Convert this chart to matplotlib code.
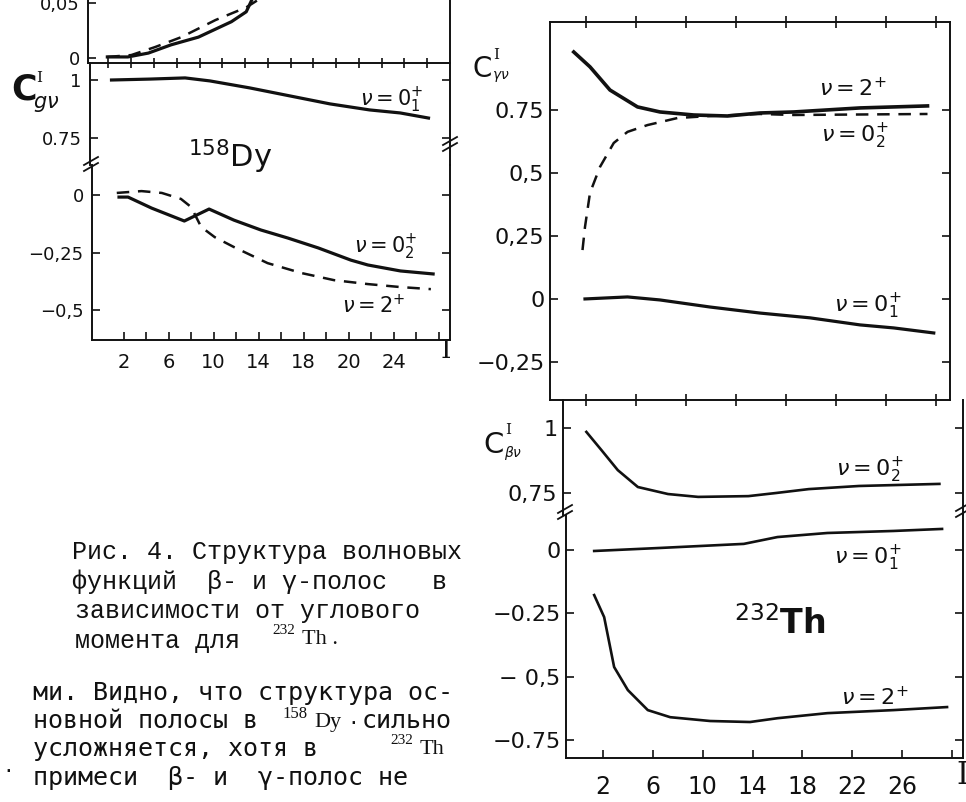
import matplotlib
matplotlib.use("Agg")
import matplotlib.pyplot as plt
from matplotlib.lines import Line2D

# ---------------- data ----------------
# 158Dy, upper strip (small component)
dy_top_solid_I = [0.9, 2.7, 4.5, 6.5, 8.9, 11.8, 13.1, 13.6]
dy_top_solid_C = [0.001, 0.001, 0.0045, 0.012, 0.019, 0.033, 0.042, 0.053]
dy_top_dash_I = [0.9, 3.0, 5.1, 7.4, 10.4, 13.1, 14.4, 16.0]
dy_top_dash_C = [0.001, 0.0027, 0.010, 0.019, 0.0345, 0.046, 0.0545, 0.058]
# 158Dy, nu = 0_1^+
dy_01_I = [1.1, 4.5, 7.6, 9.8, 13.3, 16.9, 20.4, 23.9, 26.6, 29.1]
dy_01_C = [1.0, 1.004, 1.009, 0.996, 0.966, 0.931, 0.897, 0.871, 0.858, 0.836]
# 158Dy, nu = 0_2^+
dy_02_I = [1.6, 2.4, 4.5, 7.4, 9.6, 11.8, 14.2, 16.6, 19.3, 22.2, 23.7, 26.6, 29.5]
dy_02_C = [-0.009, -0.009, -0.057, -0.113, -0.061, -0.109, -0.152, -0.187,
           -0.230, -0.283, -0.304, -0.330, -0.343]
# 158Dy, nu = 2^+
dy_2_I = [1.4, 3.6, 5.4, 7.1, 8.0, 8.9, 10.1, 11.8, 14.8, 17.8, 20.7, 23.7, 26.6, 29.3]
dy_2_C = [0.009, 0.017, 0.009, -0.017, -0.052, -0.139, -0.183, -0.226, -0.296,
          -0.339, -0.370, -0.387, -0.400, -0.409]

# 232Th, gamma band
th_g2_I = [1.0, 2.3, 3.9, 6.1, 7.9, 10.6, 13.3, 15.9, 18.6, 23.9, 29.3]
th_g2_C = [0.980, 0.921, 0.829, 0.762, 0.742, 0.730, 0.726, 0.738, 0.742, 0.758, 0.766]
th_g02_I = [1.7, 1.9, 2.3, 3.1, 4.2, 5.3, 6.9, 9.3, 11.9, 15.9, 18.6, 29.3]
th_g02_C = [0.194, 0.286, 0.421, 0.524, 0.619, 0.663, 0.690, 0.718, 0.726, 0.734, 0.730, 0.734]
th_g01_I = [1.9, 5.3, 7.9, 11.9, 15.9, 19.9, 23.9, 26.6, 29.8]
th_g01_C = [0.0, 0.008, -0.004, -0.032, -0.056, -0.075, -0.103, -0.115, -0.135]

# 232Th, beta band
th_b02_I = [0.9, 2.1, 3.4, 5.0, 7.4, 9.8, 13.8, 16.0, 18.6, 22.6, 29.0]
th_b02_C = [0.985, 0.915, 0.838, 0.773, 0.746, 0.735, 0.738, 0.750, 0.765, 0.777, 0.785]
th_b01_I = [1.3, 6.6, 13.3, 14.1, 16.0, 20.0, 25.3, 29.2]
th_b01_C = [-0.004, 0.008, 0.024, 0.032, 0.051, 0.067, 0.075, 0.083]
th_b2_I = [1.3, 2.1, 2.9, 4.0, 5.6, 7.4, 10.6, 13.8, 16.0, 20.0, 25.3, 29.6]
th_b2_C = [-0.178, -0.265, -0.462, -0.553, -0.632, -0.660, -0.675, -0.679,
           -0.664, -0.644, -0.632, -0.620]

# tick labels
dy_x_ticks = [2, 6, 10, 14, 18, 22, 26]
dy_x_labels = ["2", "6", "10", "14", "18", "20", "24"]
th_x_ticks = [2, 6, 10, 14, 18, 22, 26, 30]
th_x_labels = ["2", "6", "10", "14", "18", "22", "26", ""]
dy_top_yticks = [0, 0.05]
dy_top_ylabels = ["0", "0,05"]
dy_mid_yticks = [1, 0.75]
dy_mid_ylabels = ["1", "0.75"]
dy_low_yticks = [0, -0.25, -0.5]
dy_low_ylabels = ["0", "\u22120,25", "\u22120,5"]
thg_yticks = [0.75, 0.5, 0.25, 0, -0.25]
thg_ylabels = ["0.75", "0,5", "0,25", "0", "\u22120,25"]
thb_up_yticks = [1, 0.75]
thb_up_ylabels = ["1", "0,75"]
thb_low_yticks = [0, -0.25, -0.5, -0.75]
thb_low_ylabels = ["0", "\u22120.25", "\u2212 0,5", "\u22120.75"]

# ---------------- figure ----------------
plt.rcParams['mathtext.fontset'] = 'dejavusans'
W, H = 966, 802
fig = plt.figure(figsize=(W / 100, H / 100), dpi=100)
fig.patch.set_facecolor('white')
INK = '#111111'


def axpx(l, t, r, b):
    ax = fig.add_axes([l / W, 1 - b / H, (r - l) / W, (b - t) / H])
    ax.patch.set_alpha(0)
    return ax


def ftxt(x, y, s, **kw):
    kw.setdefault('ha', 'center')
    kw.setdefault('va', 'center')
    kw.setdefault('color', INK)
    return fig.text(x / W, 1 - y / H, s, **kw)


def fline(xs, ys, lw=1.3):
    fig.add_artist(Line2D([x / W for x in xs], [1 - y / H for y in ys],
                          transform=fig.transFigure, color=INK, lw=lw))


def style(ax, spines, xlim, ylim, lsize):
    ax.set_xlim(*xlim)
    ax.set_ylim(*ylim)
    for s in ['top', 'bottom', 'left', 'right']:
        ax.spines[s].set_visible(s in spines)
        ax.spines[s].set_linewidth(1.4)
        ax.spines[s].set_color(INK)
    ax.tick_params(axis='both', which='both', direction='in', length=6, width=1.2,
                   colors=INK, labelsize=lsize, pad=6)
    ax.set_xticks([])
    ax.set_yticks([])


XL_DY = (-0.8, 31.0)
lw_thick = 2.3
dash = dict(ls=(0, (5, 3.5)), lw=1.8, color=INK)

# ---- 158Dy, top strip ----
a1 = axpx(88, 0, 450, 63)
style(a1, ['left', 'right', 'bottom'], XL_DY, (-0.0045, 0.0527), 13)
a1.set_yticks(dy_top_yticks, dy_top_ylabels)
a1.set_xticks(list(range(1, 31, 2)))
a1.tick_params(axis='x', direction='inout', length=7, labelbottom=False)
a1.plot(dy_top_solid_I, dy_top_solid_C, color=INK, lw=lw_thick)
a1.plot(dy_top_dash_I, dy_top_dash_C, **dash)

# ---- 158Dy, middle ----
a2 = axpx(90, 63, 450, 165)
style(a2, ['left', 'right'], XL_DY, (0.6336, 1.0733), 13)
a2.set_yticks(dy_mid_yticks, dy_mid_ylabels)
a2.tick_params(axis='y', right=True)
a2.plot(dy_01_I, dy_01_C, color=INK, lw=lw_thick)

# ---- 158Dy, lower ----
a3 = axpx(92, 165, 450, 340)
style(a3, ['left', 'right', 'bottom'], XL_DY, (-0.630, 0.1304), 13)
a3.set_yticks(dy_low_yticks, dy_low_ylabels)
a3.tick_params(axis='y', right=True)
a3.set_xticks(dy_x_ticks, dy_x_labels)
a3.set_xticks(list(range(2, 31, 2)), minor=True)
a3.tick_params(axis='x', which='both', length=6, pad=9, labelsize=14)
a3.plot(dy_02_I, dy_02_C, color=INK, lw=lw_thick)
a3.plot(dy_2_I, dy_2_C, **dash)

# break marks, left panel
for dy in (-3, 3):
    fline([84, 98], [168 + dy, 160 + dy], lw=1.3)
    fline([443, 457], [148 + dy, 140 + dy], lw=1.3)

ftxt(24, 90, "C", fontsize=25, fontweight='bold')
ftxt(39, 78, "I", fontsize=11, family='DejaVu Serif')
ftxt(46, 104, r"$g\nu$", fontsize=15)
ftxt(230, 157, r"$^{158}$Dy", fontsize=22)
ftxt(392, 100, r"$\nu=0_{1}^{+}$", fontsize=15, fontweight='bold')
ftxt(386, 247, r"$\nu=0_{2}^{+}$", fontsize=15)
ftxt(374, 305, r"$\nu=2^{+}$", fontsize=15)
ftxt(446, 350, "I", fontsize=19, family='DejaVu Serif')

# ---- 232Th, gamma panel ----
XL_TH = (-0.9, 31.1)
b1 = axpx(550, 22, 950, 400)
style(b1, ['left', 'right', 'bottom', 'top'], XL_TH, (-0.401, 1.099), 16)
b1.set_yticks(thg_yticks, thg_ylabels)
b1.tick_params(axis='y', right=True, pad=4)
b1.set_xticks(th_x_ticks)
b1.tick_params(axis='x', direction='inout', length=8, labelbottom=False, top=True)
b1.plot(th_g2_I, th_g2_C, color=INK, lw=lw_thick + 0.3)
b1.plot(th_g02_I, th_g02_C, **dash)
b1.plot(th_g01_I, th_g01_C, color=INK, lw=lw_thick)

ftxt(482, 69, "C", fontsize=20)
ftxt(496, 55, "I", fontsize=11, family='DejaVu Serif')
ftxt(501, 76, r"$\gamma\nu$", fontsize=10)
ftxt(853, 88, r"$\nu=2^{+}$", fontsize=16, fontweight='bold')
ftxt(855, 136, r"$\nu=0_{2}^{+}$", fontsize=16)
ftxt(868, 306, r"$\nu=0_{1}^{+}$", fontsize=16)

# ---- 232Th, beta panel (upper) ----
XL_THB = (-0.96, 30.88)
b2 = axpx(563, 400, 963, 515)
style(b2, ['left', 'right'], XL_THB, (0.6654, 1.1077), 16)
b2.set_yticks(thb_up_yticks, thb_up_ylabels)
b2.tick_params(axis='y', right=True, pad=4)
b2.plot(th_b02_I, th_b02_C, color=INK, lw=1.9)

# ---- 232Th, beta panel (lower) ----
b3 = axpx(566, 515, 963, 758)
style(b3, ['left', 'right', 'bottom'], XL_THB, (-0.821, 0.138), 16)
b3.set_yticks(thb_low_yticks, thb_low_ylabels)
b3.tick_params(axis='y', right=True, pad=4)
b3.set_xticks(th_x_ticks, th_x_labels)
b3.tick_params(axis='x', length=6, pad=12, labelsize=17)
b3.plot(th_b01_I, th_b01_C, color=INK, lw=1.9)
b3.plot(th_b2_I, th_b2_C, color=INK, lw=1.9)

for dy in (-3, 3):
    fline([558, 572], [516 + dy, 508 + dy], lw=1.3)
    fline([956, 970], [514 + dy, 506 + dy], lw=1.3)

ftxt(494, 445, "C", fontsize=21)
ftxt(508, 430, "I", fontsize=11, family='DejaVu Serif')
ftxt(513, 453, r"$\beta\nu$", fontsize=10)
ftxt(870, 470, r"$\nu=0_{2}^{+}$", fontsize=16)
ftxt(868, 558, r"$\nu=0_{1}^{+}$", fontsize=16)
ftxt(875, 697, r"$\nu=2^{+}$", fontsize=16)
ftxt(780, 624, r"$^{232}$Th", fontsize=24, fontweight='bold')
ftxt(962, 776, "I", fontsize=22, family='DejaVu Serif')

# ---------------- caption & body text ----------------
CAP = ['Liberation Mono', 'DejaVu Sans Mono']
BODY = ['DejaVu Sans Mono']
ftxt(72, 552, "Рис. 4. Структура волновых", ha='left', family=CAP, fontsize=18)
ftxt(72, 582, "функций  β- и γ-полос   в", ha='left', family=CAP, fontsize=18)
ftxt(75, 611, "зависимости от углового", ha='left', family=CAP, fontsize=18)
ftxt(75, 641, "момента для", ha='left', family=CAP, fontsize=18)
ftxt(272, 631, "232", ha='left', family='Liberation Serif', fontsize=11)
ftxt(302, 640, "Th .", ha='left', family='Liberation Serif', fontsize=16)

ftxt(33, 693, "ми. Видно, что структура ос-", ha='left', family=BODY, fontsize=18)
ftxt(33, 721, "новной полосы в", ha='left', family=BODY, fontsize=18)
ftxt(282, 714, "158", ha='left', family='Liberation Serif', fontsize=12)
ftxt(314, 722, "Dy", ha='left', family='Liberation Serif', fontsize=16)
ftxt(353, 723, "·", ha='center', family=BODY, fontsize=14)
ftxt(362, 721, "сильно", ha='left', family=BODY, fontsize=18)
ftxt(33, 749, "усложняется, хотя в", ha='left', family=BODY, fontsize=18)
ftxt(390, 741, "232", ha='left', family='Liberation Serif', fontsize=11)
ftxt(420, 749, "Th", ha='left', family='Liberation Serif', fontsize=16)
ftxt(33, 778, "примеси  β- и  γ-полос не", ha='left', family=BODY, fontsize=18)
ftxt(2, 772, "·", ha='left', family=BODY, fontsize=14)

fig.savefig("out.png", dpi=100, facecolor='white')
